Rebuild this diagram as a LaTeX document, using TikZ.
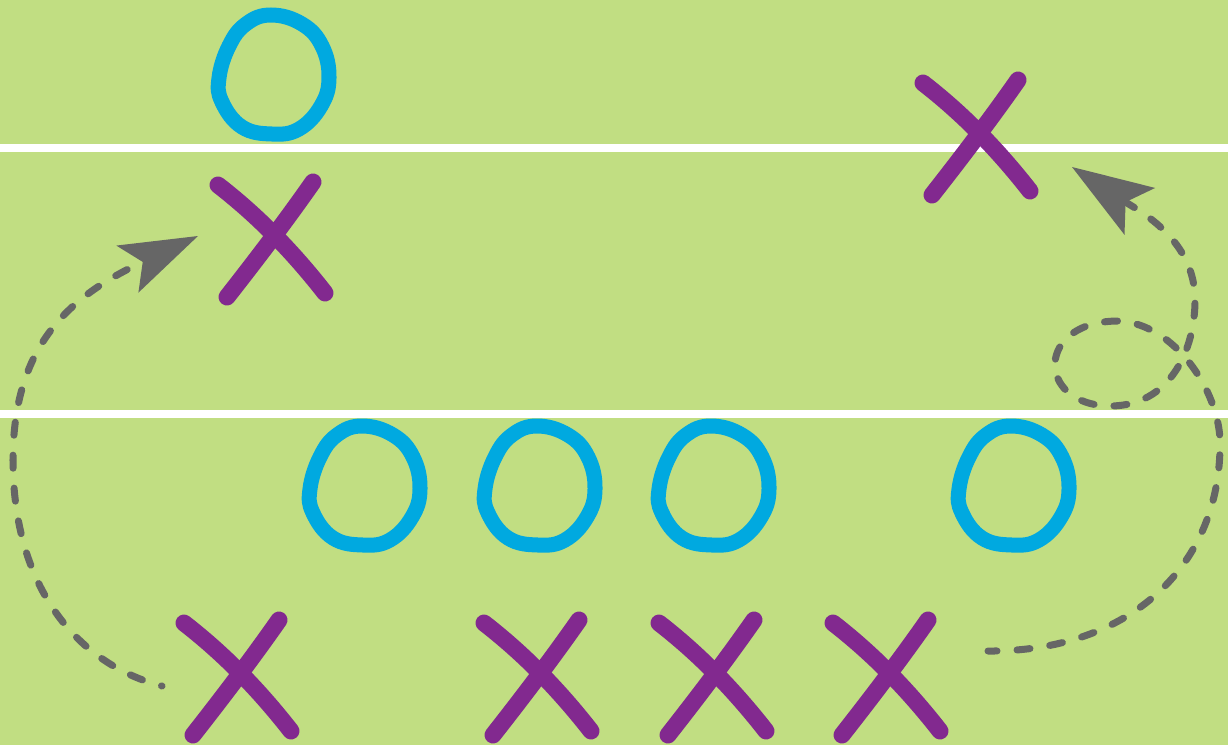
\documentclass[tikz,border=0pt]{standalone}
\usepackage{xcolor}
\usetikzlibrary{arrows.meta}
\definecolor{fieldgreen}{HTML}{C1DE82}
\definecolor{ocolor}{HTML}{00A9E0}
\definecolor{xpurple}{HTML}{82298F}
\definecolor{routegray}{HTML}{666666}

\tikzset{
  % hand drawn O and X, in pixel units (y points down)
  omark/.pic={
    \draw[ostroke] plot[smooth cycle, tension=0.7] coordinates {(-3,-61) (28,-52) (48,-30) (55,2) (47,30) (25,53) (-2,58) (-32,51) (-52,26) (-55,2) (-45,-30) (-28,-52)};
  },
  xmark/.pic={
    \draw[xstroke] (-55,-50) .. controls (-15,-19) and (20,17) .. (52,58);
    \draw[xstroke] (40,-53) .. controls (12,-13) and (-17,25) .. (-46,62);
  },
}

\begin{document}
\begin{tikzpicture}[x={(0.01cm,0)}, y={(0,-0.01cm)},
    ostroke/.style={ocolor, line width=0.15cm},
    xstroke/.style={xpurple, line width=0.17cm, line cap=round},
    yardline/.style={white, line width=0.08cm},
    route/.style={routegray, line width=0.07cm, line cap=round, dash pattern=on 0.13cm off 0.2cm}]
  \useasboundingbox (0,0) rectangle (1228,745);
  % field and yard lines
  \fill[fieldgreen] (0,0) rectangle (1228,745);
  \draw[yardline] (0,147.5) -- (1228,147.5);
  \draw[yardline] (0,414) -- (1228,414);
  % defense
  \pic (safety) at (274,76) {omark};
  \foreach \x/\n in {365/oa, 540/ob, 714/oc, 1014/od} {
    \pic (\n) at (\x,487) {omark};
  }
  % offense
  \pic (wrleft) at (273,235) {xmark};
  \pic (wrright) at (978,133) {xmark};
  \foreach \x/\n in {239/xa, 539/xb, 714/xc, 888/xd} {
    \pic (\n) at (\x,673) {xmark};
  }
  % routes
  \coordinate (leftstart) at (162,686);
  \coordinate (lefttip) at (198,236);
  \coordinate (rightstart) at (988,651);
  \coordinate (righttip) at (1072,167);
  \draw[route, dash phase=0.125cm, -{Stealth[length=0.78cm, width=0.52cm, inset=0.17cm, line width=0pt]}]
    (leftstart) .. controls (80,665) and (13,590) .. (13,460)
    .. controls (13,345) and (70,296) .. (lefttip);
  \draw[route, dash phase=0.04cm, -{Stealth[length=0.81cm, width=0.56cm, inset=0.17cm, line width=0pt]}]
    (rightstart) .. controls (1130,652) and (1222,565) .. (1220,440)
    .. controls (1218,390) and (1175,325) .. (1120,321)
    .. controls (1035,320) and (1035,405) .. (1110,406)
    .. controls (1170,406) and (1195,350) .. (1195,300)
    .. controls (1195,240) and (1140,211.5) .. (righttip);
\end{tikzpicture}
\end{document}
